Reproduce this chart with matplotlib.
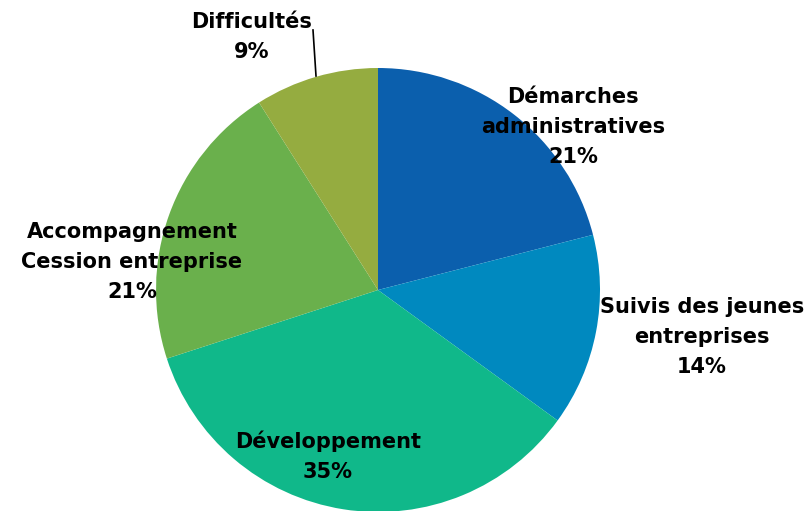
import matplotlib
matplotlib.use("Agg")
import matplotlib.pyplot as plt

labels = ["Démarches\nadministratives", "Suivis des jeunes\nentreprises", "Développement",
          "Accompagnement\nCession entreprise", "Difficultés"]
values = [21, 14, 35, 21, 9]
colors = ["#0B5FAD", "#0089BF", "#10B88A", "#6AB04C", "#95AC40"]

# label block centres in pixels (x, y from top)
label_pos = [(573, 127), (702, 337), (328, 456), (132, 262), (252, 37)]

W, H = 805, 511
cx, cy, r = 378, 290, 222

fig = plt.figure(figsize=(W / 100, H / 100), dpi=100)
ax = fig.add_axes([(cx - r) / W, (H - cy - r) / H, 2 * r / W, 2 * r / H])
ax.pie(values, colors=colors, startangle=90, counterclock=False, radius=1,
       wedgeprops=dict(linewidth=0))
ax.set_xlim(-1, 1)
ax.set_ylim(-1, 1)
ax.set_aspect("equal")
ax.axis("off")

for lab, v, (px, py) in zip(labels, values, label_pos):
    x = (px - cx) / r
    y = (cy - py) / r
    ax.text(x, y, f"{lab}\n{v}%", ha="center", va="center", fontsize=15,
            fontweight="bold", family="DejaVu Sans", linespacing=1.6, clip_on=False)

# leader line for Difficultés
ax.plot([(313 - cx) / r, (316 - cx) / r], [(cy - 30) / r, (cy - 76) / r],
        color="black", linewidth=1.2, clip_on=False)

fig.savefig("out.png", dpi=100)
